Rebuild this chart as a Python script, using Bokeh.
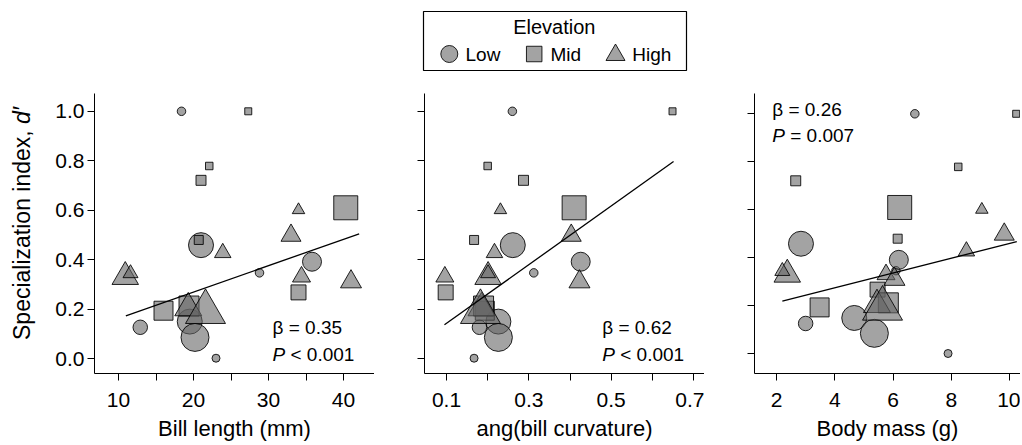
import numpy as np
from bokeh.plotting import figure
from bokeh.models import (ColumnDataSource, Range1d, FixedTicker, PrintfTickFormatter,
                          CustomJSTickFormatter, Label)
from bokeh.layouts import row, column
from bokeh.embed import file_html
from bokeh.resources import INLINE
from bokeh.core.properties import value

FONT = "Liberation Sans"

# ---------------- data ----------------
elevations = ["Low", "Mid", "High"]

# Low elevation species
low_d    = [1.000, 0.459, 0.347, 0.392, 0.150, 0.127, 0.086, 0.002]
low_bill = [18.4, 21.0, 28.8, 35.8, 19.5, 12.9, 20.2, 23.0]
low_curv = [0.260, 0.261, 0.312, 0.426, 0.226, 0.180, 0.226, 0.167]
low_mass = [6.75, 2.84, 6.10, 6.20, 4.67, 3.00, 5.36, 7.89]
low_size = [8.5, 25, 8.5, 19, 25, 14.5, 28, 8]

# Mid elevation species
mid_d    = [1.000, 0.779, 0.721, 0.610, 0.480, 0.268, 0.194, 0.213]
mid_bill = [27.3, 22.1, 21.0, 40.3, 20.7, 34.0, 16.0, 19.4]
mid_curv = [0.649, 0.200, 0.287, 0.410, 0.167, 0.098, 0.193, 0.190]
mid_mass = [10.23, 8.24, 2.66, 6.23, 6.16, 5.47, 3.48, 5.84]
mid_size = [7, 7.5, 10, 24, 9, 15, 19, 20]

# High elevation species
high_d    = [0.601, 0.498, 0.428, 0.331, 0.345, 0.331, 0.311, 0.205, 0.189]
high_bill = [34.0, 33.0, 23.9, 10.9, 11.6, 34.4, 41.0, 19.3, 21.6]
high_curv = [0.231, 0.403, 0.2165, 0.201, 0.201, 0.096, 0.423, 0.185, 0.1825]
high_mass = [9.05, 9.82, 8.52, 2.37, 2.20, 5.76, 6.05, 5.45, 5.64]
high_size = [12.5, 20, 16.5, 26.5, 15, 18, 21, 27, 40]

# fitted regression lines (end points)
fit_bill_x = [10.98, 42.09]
fit_bill_y = [0.173, 0.505]
fit_curv_x = [0.095, 0.6515]
fit_curv_y = [0.137, 0.797]
fit_mass_x = [2.20, 10.25]
fit_mass_y = [0.220, 0.468]

betas = ["0.35", "0.62", "0.26"]
pvals = ["< 0.001", "< 0.001", "= 0.007"]

x_titles = ["Bill length (mm)", "ang(bill curvature)", "Body mass (g)"]
y_title = "Specialization index, "
y_title_italic = "d\u2032"

d_ticks = [0.0, 0.2, 0.4, 0.6, 0.8, 1.0]
bill_ticks = [10, 15, 20, 25, 30, 35, 40]
bill_labeled = [10, 20, 30, 40]
curv_ticks = [0.1, 0.2, 0.3, 0.4, 0.5, 0.6, 0.7]
curv_labeled = [0.1, 0.3, 0.5, 0.7]
mass_ticks = [2, 4, 6, 8, 10]
mass_labeled = [2, 4, 6, 8, 10]

# ---------------- layout geometry (page pixels) ----------------
TOTAL_W = 1020
LEG_H = 85
FRAME_TOP = 93
FRAME_H = 280
FRAME_BOTTOM = FRAME_TOP + FRAME_H
BORDER_TOP = FRAME_TOP - LEG_H
BORDER_BOTTOM = 71
PANEL_H = BORDER_TOP + FRAME_H + BORDER_BOTTOM
TITLE_W = 40

bill_range = (6.8, 44.133)
curv_range = (0.04656, 0.72667)
mass_range = (1.2446, 10.3776)
d_range_a = (-0.0598, 1.0720)
d_range_b = (-0.0812, 1.0845)

FILL = "#666666"
FILL_ALPHA = 0.6
MARK_LINE = "black"
TICK_FS = "21px"
ANNOT_FS = "19px"

panels_cfg = [
    dict(key="bill", xr=bill_range, yr=d_range_a, left=94 - TITLE_W, fw=280, fl=94,
         ticks=bill_ticks, labeled=bill_labeled, dec=0, fit=(fit_bill_x, fit_bill_y),
         stat_pos=((272, 327), (272, 354))),
    dict(key="curv", xr=curv_range, yr=d_range_a, left=50, fw=280, fl=424,
         ticks=curv_ticks, labeled=curv_labeled, dec=1, fit=(fit_curv_x, fit_curv_y),
         stat_pos=((601.7, 327), (601.7, 354))),
    dict(key="mass", xr=mass_range, yr=d_range_b, left=50, fw=266, fl=754,
         ticks=mass_ticks, labeled=mass_labeled, dec=0, fit=(fit_mass_x, fit_mass_y),
         stat_pos=((771.7, 109.3), (771.7, 135))),
]

series = {
    "Low": dict(marker="circle", d=low_d, bill=low_bill, curv=low_curv, mass=low_mass, size=low_size),
    "Mid": dict(marker="square", d=mid_d, bill=mid_bill, curv=mid_curv, mass=mid_mass, size=mid_size),
    "High": dict(marker="triangle", d=high_d, bill=high_bill, curv=high_curv, mass=high_mass, size=high_size),
}


def page_to_data(cfg, px, py):
    xr, yr = cfg["xr"], cfg["yr"]
    x = xr[0] + (px - cfg["fl"]) * (xr[1] - xr[0]) / cfg["fw"]
    y = yr[0] + (FRAME_BOTTOM - py) * (yr[1] - yr[0]) / FRAME_H
    return x, y


def style_axes(p):
    for ax in (p.xaxis[0], p.yaxis[0]):
        ax.axis_line_color = "black"
        ax.axis_line_width = 1
        ax.major_tick_line_color = "black"
        ax.major_tick_line_width = 1
        ax.major_tick_in = 0
        ax.major_tick_out = 7
        ax.minor_tick_line_color = None
        ax.major_label_text_font = FONT
        ax.major_label_text_font_size = TICK_FS
        ax.major_label_text_color = "black"
        ax.axis_label_text_font = FONT
        ax.axis_label_text_font_style = "normal"
        ax.axis_label_text_color = "black"
    p.xaxis.major_label_standoff = 12
    p.xaxis.axis_label_standoff = 6
    p.xaxis.axis_label_text_font_size = "22px"
    p.yaxis.major_label_standoff = 3
    p.xgrid.visible = False
    p.ygrid.visible = False
    p.outline_line_color = None
    p.background_fill_color = "white"
    p.border_fill_color = "white"


def blank_fig(w, h):
    f = figure(width=w, height=h, x_range=Range1d(0, w), y_range=Range1d(0, h),
               output_backend="svg", toolbar_location=None,
               x_axis_location=None, y_axis_location=None, min_border=0)
    f.outline_line_color = None
    f.xgrid.visible = False
    f.ygrid.visible = False
    f.background_fill_color = "white"
    f.border_fill_color = "white"
    return f


panels = []
for i, cfg in enumerate(panels_cfg):
    p = figure(width=cfg["left"] + cfg["fw"], height=PANEL_H,
               x_range=Range1d(*cfg["xr"]), y_range=Range1d(*cfg["yr"]),
               output_backend="svg", toolbar_location=None,
               min_border_left=cfg["left"], min_border_right=0,
               min_border_top=BORDER_TOP, min_border_bottom=BORDER_BOTTOM)
    style_axes(p)
    p.xaxis.axis_label = x_titles[i]
    p.xaxis.ticker = FixedTicker(ticks=cfg["ticks"])
    p.xaxis.formatter = CustomJSTickFormatter(
        args=dict(shown=cfg["labeled"], dec=cfg["dec"]),
        code="const s = shown.find(v => Math.abs(v - tick) < 1e-9);"
             "return s === undefined ? '' : s.toFixed(dec);")
    p.yaxis.ticker = FixedTicker(ticks=d_ticks)
    if i == 0:
        p.yaxis.formatter = PrintfTickFormatter(format="%.1f")
    else:
        p.yaxis.formatter = CustomJSTickFormatter(code="return '';")

    for elev in elevations:
        s = series[elev]
        src = ColumnDataSource(dict(x=s[cfg["key"]], y=s["d"], size=s["size"]))
        p.scatter("x", "y", source=src, marker=s["marker"], size="size",
                  fill_color=FILL, fill_alpha=FILL_ALPHA,
                  line_color=MARK_LINE, line_alpha=0.85, line_width=1)

    fx, fy = cfg["fit"]
    p.line(fx, fy, line_color="black", line_width=1.3)

    (bx, by), (qx, qy) = cfg["stat_pos"]
    dx, dy = page_to_data(cfg, bx, by)
    p.add_layout(Label(x=dx, y=dy, text="\u03b2 = " + betas[i], text_font=FONT,
                       text_font_size=ANNOT_FS, text_baseline="middle", text_align="left",
                       text_color="black"))
    dx, dy = page_to_data(cfg, qx, qy)
    p.add_layout(Label(x=dx, y=dy, text="P", text_font=FONT, text_font_style="italic",
                       text_font_size=ANNOT_FS, text_baseline="middle", text_align="left",
                       text_color="black"))
    p.add_layout(Label(x=dx, y=dy, x_offset=18, text=pvals[i], text_font=FONT,
                       text_font_size=ANNOT_FS, text_baseline="middle", text_align="left",
                       text_color="black"))
    panels.append(p)

# ---------------- y-axis title (its own narrow strip) ----------------
ytf = blank_fig(TITLE_W, PANEL_H)
split_y = (LEG_H + PANEL_H) - 124
ytf.text(x=[21.5], y=[split_y], text=[y_title], angle=np.pi / 2, text_font=value(FONT),
         text_font_size="23px", text_align="right", text_baseline="middle", text_color="black")
ytf.text(x=[21.5], y=[split_y], text=[y_title_italic], angle=np.pi / 2, text_font=value(FONT),
         text_font_style="italic", text_font_size="23px", text_align="left",
         text_baseline="middle", text_color="black")

# ---------------- legend ----------------
leg = blank_fig(TOTAL_W, LEG_H)
leg.quad(left=[423], right=[686], bottom=[15], top=[74], fill_color=None,
         line_color="black", line_width=1.2)
leg.text(x=[553.8], y=[59], text=["Elevation"], text_font=value(FONT), text_font_size="20px",
         text_align="center", text_baseline="middle", text_color="black")
leg_src = ColumnDataSource(dict(
    x=[448.8, 533.7, 615.0], y=[31.5, 31.5, 30.5],
    marker=[series[e]["marker"] for e in elevations], size=[17, 15.5, 19]))
leg.scatter("x", "y", source=leg_src, marker="marker", size="size",
            fill_color=FILL, fill_alpha=FILL_ALPHA, line_color=MARK_LINE, line_alpha=0.85,
            line_width=1)
leg.text(x=[465, 550, 631.7], y=[31.5, 31.5, 31.5], text=elevations, text_font=value(FONT),
         text_font_size="19px", text_align="left", text_baseline="middle", text_color="black")

layout = column(leg, row(ytf, *panels))
open("out.html", "w").write(file_html(layout, INLINE))
